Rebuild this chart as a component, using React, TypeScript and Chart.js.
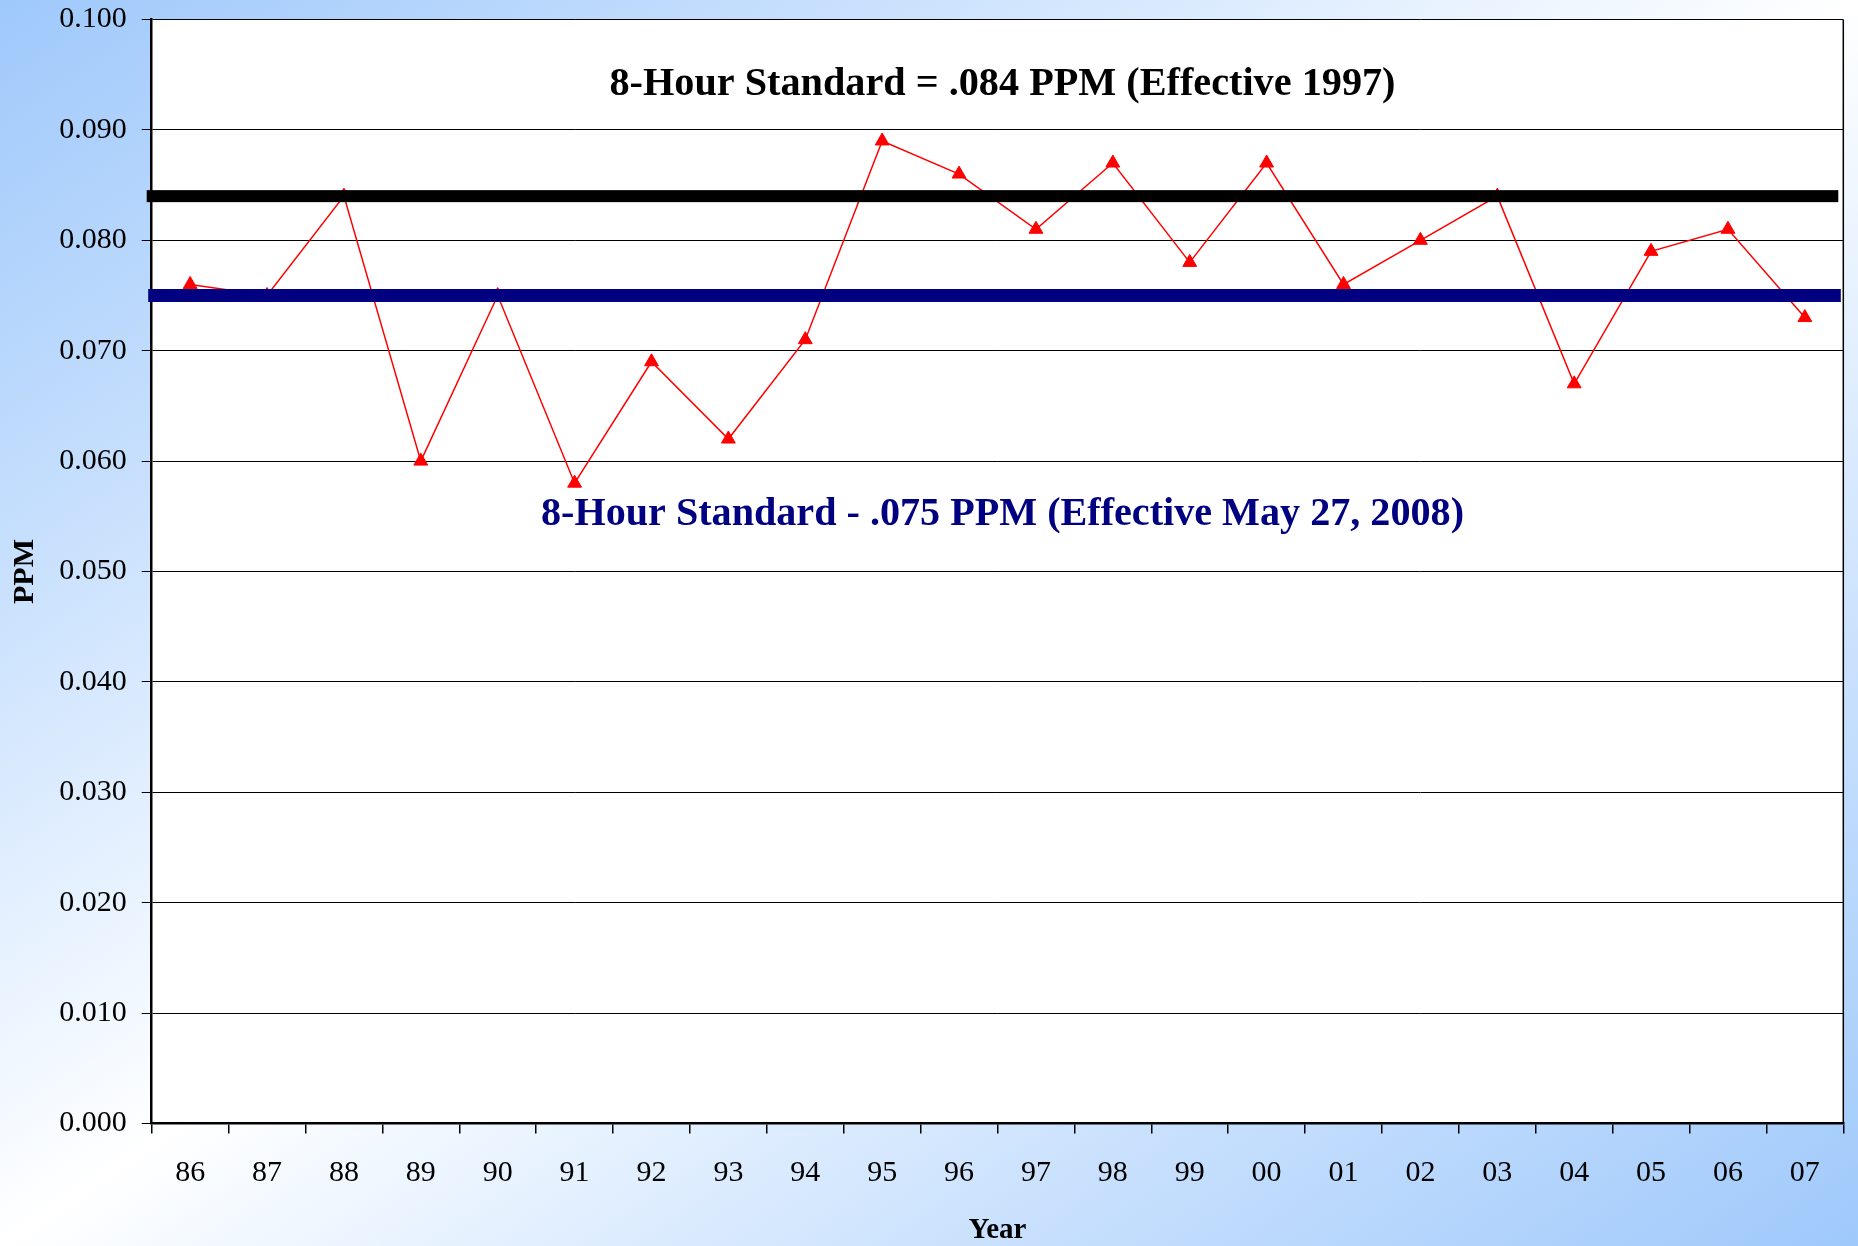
import React, { useEffect, useRef } from "react";
import { Chart, registerables } from "chart.js";

Chart.register(...registerables);

// ---- data ----
const years = ["86", "87", "88", "89", "90", "91", "92", "93", "94", "95", "96", "97", "98", "99", "00", "01", "02", "03", "04", "05", "06", "07"];
const ozonePpm = [0.076, 0.075, 0.084, 0.060, 0.075, 0.058, 0.069, 0.062, 0.071, 0.089, 0.086, 0.081, 0.087, 0.078, 0.087, 0.076, 0.080, 0.084, 0.067, 0.079, 0.081, 0.073];
const yMin = 0;
const yMax = 0.1;
const yStep = 0.01;
const standard1997 = 0.084;
const standard2008 = 0.075;
const standard1997Label = "8-Hour Standard = .084 PPM (Effective 1997)";
const standard2008Label = "8-Hour Standard - .075 PPM (Effective May 27, 2008)";
const standard1997LabelAt = 0.0932; // baseline value
const standard2008LabelAt = 0.0542; // baseline value
const yTitle = "PPM";
const xTitle = "Year";

const SERIF = '"Liberation Serif", "Times New Roman", serif';

function drawCondensed(ctx: CanvasRenderingContext2D, text: string, cx: number, baseY: number, targetW: number, color: string) {
  ctx.save();
  ctx.font = `bold 40px ${SERIF}`;
  ctx.fillStyle = color;
  ctx.textAlign = "center";
  ctx.textBaseline = "alphabetic";
  const w = ctx.measureText(text).width;
  ctx.translate(cx, baseY);
  ctx.scale(targetW / w, 1);
  ctx.fillText(text, 0, 0);
  ctx.restore();
}

const decorPlugin = {
  id: "decor",
  beforeDraw(chart: any) {
    const { ctx, chartArea } = chart;
    ctx.save();
    ctx.fillStyle = "#ffffff";
    ctx.fillRect(chartArea.left, chartArea.top, chartArea.right - chartArea.left, chartArea.bottom - chartArea.top);
    ctx.restore();
  },
  afterDatasetsDraw(chart: any) {
    const { ctx, chartArea } = chart;
    const y = chart.scales.y;
    const { left, right, top, bottom } = chartArea;
    ctx.save();
    // right frame line
    ctx.strokeStyle = "#000";
    ctx.lineWidth = 1.5;
    ctx.beginPath();
    ctx.moveTo(right, top);
    ctx.lineTo(right, bottom);
    ctx.stroke();
    // standard lines
    const y84 = y.getPixelForValue(standard1997);
    ctx.fillStyle = "#000000";
    ctx.fillRect(left - 5, y84 - 6, right - left, 12);
    const y75 = y.getPixelForValue(standard2008);
    ctx.fillStyle = "#000080";
    ctx.fillRect(left - 3.5, y75 - 6.5, right - left + 1, 13);
    ctx.restore();
    const cx = (left + right) / 2 + 5;
    drawCondensed(ctx, standard1997Label, cx, y.getPixelForValue(standard1997LabelAt), 786, "#000000");
    drawCondensed(ctx, standard2008Label, cx, y.getPixelForValue(standard2008LabelAt), 923, "#000080");
  },
};

export default function App() {
  const canvasRef = useRef<HTMLCanvasElement | null>(null);

  useEffect(() => {
    const canvas = canvasRef.current;
    if (!canvas) return;
    const chart = new Chart(canvas, {
      type: "line",
      data: {
        labels: years,
        datasets: [
          {
            label: "Ozone",
            data: ozonePpm,
            borderColor: "#ff0000",
            backgroundColor: "#ff0000",
            borderWidth: 1.5,
            pointStyle: "triangle",
            pointRadius: 8,
            pointBorderWidth: 1,
            pointBackgroundColor: "#ff0000",
            pointBorderColor: "#ff0000",
            tension: 0,
            fill: false,
          },
        ],
      },
      options: {
        responsive: false,
        animation: false,
        devicePixelRatio: 1,
        layout: { padding: { left: 0, top: 19.5, right: 14.7, bottom: 0 } },
        plugins: {
          legend: { display: false },
          tooltip: { enabled: false },
          title: { display: false },
        },
        scales: {
          x: {
            type: "category",
            offset: true,
            grid: {
              offset: true,
              drawOnChartArea: false,
              drawTicks: true,
              tickLength: 10,
              color: "#000",
              lineWidth: 1.5,
            },
            border: { display: true, color: "#000", width: 2.5 },
            ticks: {
              color: "#000",
              font: { family: SERIF, size: 30 },
              padding: 21.7,
              maxRotation: 0,
              autoSkip: false,
            },
            title: {
              display: true,
              text: xTitle,
              color: "#000",
              font: { family: SERIF, size: 29, weight: "bold", lineHeight: 1.1 },
              padding: { top: 0, bottom: 0 },
            },
            afterFit(scale: any) {
              scale.height = 122.5;
              scale.paddingLeft = 0;
              scale.paddingRight = 0;
            },
          },
          y: {
            min: yMin,
            max: yMax,
            grid: {
              color: "#000",
              lineWidth: 1,
              drawTicks: true,
              tickLength: 10,
            },
            border: { display: true, color: "#000", width: 2.5 },
            ticks: {
              stepSize: yStep,
              color: "#000",
              font: { family: SERIF, size: 30 },
              padding: 15,
              callback: (v: any) => Number(v).toFixed(3),
            },
            title: {
              display: true,
              text: yTitle,
              color: "#000",
              font: { family: SERIF, size: 30, weight: "bold", lineHeight: 1.2 },
              padding: { top: 7.5, bottom: 0 },
            },
            afterFit(scale: any) {
              scale.width = 151.7;
              scale.paddingTop = 0;
              scale.paddingBottom = 0;
            },
          },
        },
      },
      plugins: [decorPlugin],
    } as any);
    return () => chart.destroy();
  }, []);

  return (
    <div
      style={{
        position: "absolute",
        left: 0,
        top: 0,
        width: 1858,
        height: 1246,
        background:
          "linear-gradient(to bottom right, #9fc9fb 0%, #c6dffd 22%, #eef6ff 42%, #ffffff 50%, #eef6ff 58%, #c6dffd 78%, #9fc9fb 100%)",
      }}
    >
      <canvas ref={canvasRef} width={1858} height={1246} style={{ display: "block", width: 1858, height: 1246 }} />
    </div>
  );
}
